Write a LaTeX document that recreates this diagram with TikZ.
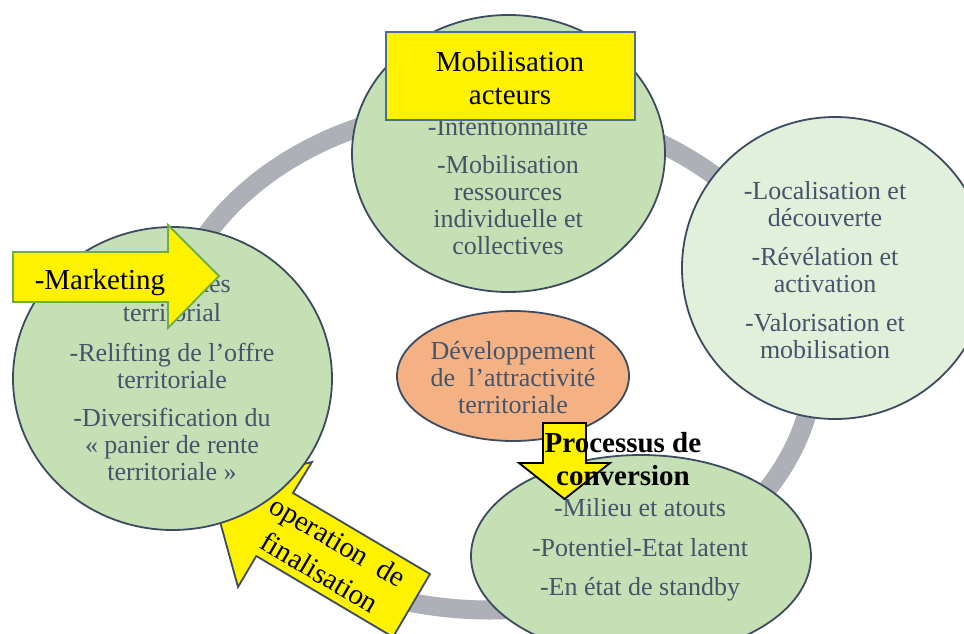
\documentclass[tikz,border=0pt]{standalone}
\usepackage{fontspec}
\setmainfont{Liberation Serif}
\usetikzlibrary{shapes.geometric}
\definecolor{ringgray}{RGB}{174,176,184}
\definecolor{greenfill}{RGB}{197,224,180}
\definecolor{lightgreen}{RGB}{226,239,218}
\definecolor{orangefill}{RGB}{244,177,131}
\definecolor{bord}{RGB}{60,75,95}
\definecolor{txt}{RGB}{68,84,106}
\definecolor{arrowgreen}{RGB}{112,173,71}
\definecolor{boxblue}{RGB}{70,110,150}
\newcommand\circtxt{\fontsize{26}{27}\selectfont}
\newcommand\labtxt{\fontsize{29}{33}\selectfont}
\tikzset{
  bubble/.style={draw=bord, line width=1.8pt},
  bubbletext/.style={text=txt, align=center, font=\circtxt, inner sep=0pt},
  yellowshape/.style={fill=yellow, line width=1.8pt, line join=miter},
  labeltext/.style={text=black, align=center, font=\labtxt, inner sep=0pt}
}
\begin{document}
\begin{tikzpicture}[x=1pt,y=-1pt]
\useasboundingbox (0,0) rectangle (964,633);
\clip (0,0) rectangle (964,633);
\fill[white] (0,0) rectangle (964,633);
% ring
\draw[ringgray, line width=19pt] (490,358) ellipse [x radius=325pt, y radius=252pt];
% finalisation arrow (behind left circle)
\draw[yellowshape, draw=bord] (210.4,486.4) -- (312,462) -- (293,493) -- (430,574) -- (393,637) -- (256.3,556) -- (238,587) -- cycle;
\node[labeltext, rotate=-30.5, font=\fontsize{29}{36}\selectfont] (fin) at (329,557) {operation\ \ de\\finalisation};
% circles
\draw[bubble, fill=greenfill] (508.5,153.5) ellipse [x radius=156.5pt, y radius=138.5pt];
\draw[bubble, fill=lightgreen] (835,268) ellipse [x radius=153pt, y radius=151pt];
\draw[bubble, fill=greenfill] (172.5,378.5) ellipse [x radius=159.5pt, y radius=151.5pt];
\draw[bubble, fill=greenfill] (641,556) ellipse [x radius=170pt, y radius=101pt];
\draw[bubble, fill=orangefill] (513,376) ellipse [x radius=116pt, y radius=65pt];
% texts in circles
\node[bubbletext] (toptext) at (508,186) {-Intentionnalité\\[11pt]-Mobilisation\\ressources\\individuelle et\\collectives};
\node[bubbletext] (righttext) at (825,270) {-Localisation et\\découverte\\[12pt]-Révélation et\\activation\\[12pt]-Valorisation et\\mobilisation};
\node[bubbletext, anchor=base east] (lefthidden) at (231,292) {-Marketing des};
\node[bubbletext] (lefttext) at (172,392) {territorial\\[13pt]-Relifting de l’offre\\territoriale\\[11pt]-Diversification du\\« panier de rente\\territoriale »};
\node[bubbletext] (bottomtext) at (640,550) {-Milieu et atouts\\[13pt]-Potentiel-Etat latent\\[12pt]-En état de standby};
\node[bubbletext] (centertext) at (513,378) {Développement\\de\ \ l’attractivité\\territoriale};
% marketing arrow
\draw[yellowshape, draw=arrowgreen] (13,252) -- (168,252) -- (168,225) -- (219,276) -- (168,328) -- (168,302) -- (13,302) -- cycle;
\node[labeltext] (marketing) at (100,283) {-Marketing};
% mobilisation box
\draw[yellowshape, draw=boxblue] (386,32) rectangle (635,120);
\node[labeltext] (mobil) at (510,78) {Mobilisation\\acteurs};
% down arrow
\draw[yellowshape, draw=black] (543,423) -- (586,423) -- (586,463) -- (610,463) -- (564.5,499) -- (519,463) -- (543,463) -- cycle;
\node[labeltext, font=\bfseries\labtxt] (proc) at (623,459) {Processus de\\conversion};
\end{tikzpicture}
\end{document}
